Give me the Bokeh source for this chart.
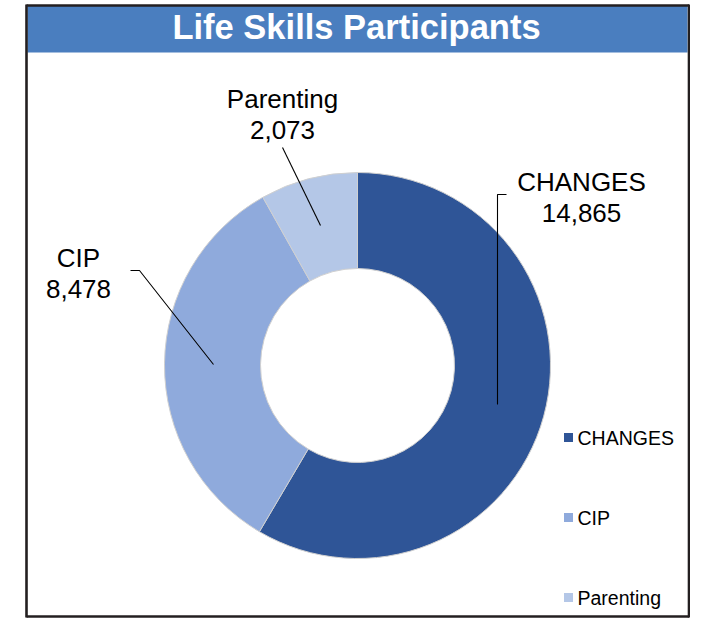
import math
from bokeh.plotting import figure
from bokeh.models import Range1d, ColumnDataSource
from bokeh.core.properties import value
from bokeh.embed import file_html
from bokeh.resources import INLINE

# ---- data ----
title = "Life Skills Participants"
categories = ["CHANGES", "CIP", "Parenting"]
participants = [14865, 8478, 2073]
colors = ["#2F5597", "#8FAADC", "#B4C7E7"]

FONT = "Liberation Sans"

# ---- layout (screen-like pixel coordinates, y downward -> negated) ----
W, H = 690, 618
p = figure(width=W, height=H, x_range=Range1d(0, W), y_range=Range1d(-H, 0),
           output_backend="svg", toolbar_location=None, min_border=0,
           x_axis_type=None, y_axis_type=None)
p.grid.visible = False
p.outline_line_color = None
p.background_fill_color = "white"
p.border_fill_color = "white"

def Y(v):
    return -v

# title band
p.quad(left=[27], right=[687], top=[Y(5)], bottom=[Y(52)], fill_color="#4A7EBF", line_color=None)
p.text(x=[356], y=[Y(26)], text=[title], text_font=value(FONT), text_font_style="bold",
       text_font_size="34.5px", text_color="white", text_align="center", text_baseline="middle")

# frame
bottom = H - 2
p.multi_line(xs=[[26, 26], [688.5, 688.5], [26, 688.5], [26, 688.5]],
             ys=[[Y(4), Y(bottom + 1)], [Y(4), Y(bottom + 1)], [Y(5), Y(5)], [Y(bottom), Y(bottom)]],
             line_color="#231F20", line_width=2.6)

# donut
cx, cy = 357, 365
r_in, r_out = 97, 193
total = sum(participants)
starts, ends = [], []
cum = 0.0
for v in participants:
    a0 = math.pi / 2 - 2 * math.pi * (cum + v) / total
    a1 = math.pi / 2 - 2 * math.pi * cum / total
    starts.append(a0)
    ends.append(a1)
    cum += v

src = ColumnDataSource(dict(cat=categories, val=participants, color=colors,
                            start=starts, end=ends))
p.annular_wedge(x=cx, y=Y(cy), inner_radius=r_in, outer_radius=r_out,
                start_angle="start", end_angle="end", fill_color="color",
                line_color="#D0D0D0", line_width=1, source=src)

# leader lines
p.multi_line(xs=[[506, 497, 497], [130, 139, 213], [282, 320]],
             ys=[[Y(194), Y(194), Y(404)], [Y(270), Y(270), Y(364)], [Y(147), Y(225)]],
             line_color="black", line_width=1.1)

# data labels
label_pos = [(581, 181), (78, 257), (282, 98)]
for (lx, ly), c, v in zip(label_pos, categories, participants):
    p.text(x=[lx], y=[Y(ly)], text=[c], text_font=value(FONT), text_font_size="26px",
           text_color="black", text_align="center", text_baseline="middle")
    p.text(x=[lx], y=[Y(ly + 31)], text=[f"{v:,}"], text_font=value(FONT), text_font_size="26px",
           text_color="black", text_align="center", text_baseline="middle")

# legend
leg_y = [437, 517, 597]
p.scatter(x=[568] * 3, y=[Y(v) for v in leg_y], marker="square", size=9,
          fill_color=colors, line_color=None)
p.text(x=[577] * 3, y=[Y(v) for v in leg_y], text=categories, text_font=value(FONT),
       text_font_size="19.5px", text_color="black", text_align="left", text_baseline="middle")

open("out.html", "w").write(file_html(p, INLINE))
